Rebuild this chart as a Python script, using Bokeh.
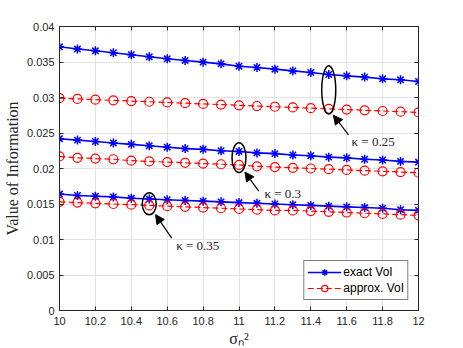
from bokeh.plotting import figure
from bokeh.models import (Range1d, FixedTicker, CustomJSTickFormatter, LinearAxis,
                          Arrow, NormalHead, Label, Legend, LegendItem)
from bokeh.embed import file_html
from bokeh.resources import INLINE

# ---------------- data ----------------
sigma2 = [10.0, 10.1, 10.2, 10.3, 10.4, 10.5, 10.6, 10.7, 10.8, 10.9, 11.0,
          11.1, 11.2, 11.3, 11.4, 11.5, 11.6, 11.7, 11.8, 11.9, 12.0]

exact_025 = [0.03714, 0.03682, 0.03658, 0.03630, 0.03602, 0.03573, 0.03545,
             0.03522, 0.03498, 0.03474, 0.03441, 0.03423, 0.03399, 0.03375,
             0.03352, 0.03324, 0.03305, 0.03287, 0.03263, 0.03249, 0.03225]
approx_025 = [0.0299, 0.0298, 0.0297, 0.0296, 0.0295, 0.0294, 0.0293, 0.0292,
              0.0291, 0.0290, 0.0289, 0.0288, 0.0287, 0.0286, 0.0285, 0.0284,
              0.0283, 0.0282, 0.0281, 0.0280, 0.0279]
exact_030 = [0.0242, 0.0240, 0.0238, 0.0236, 0.0234, 0.0232, 0.0230, 0.0228,
             0.0227, 0.0225, 0.0224, 0.0222, 0.0221, 0.0219, 0.0218, 0.0216,
             0.0215, 0.0213, 0.0212, 0.0210, 0.0209]
approx_030 = [0.0217, 0.0215, 0.0214, 0.0213, 0.0211, 0.0210, 0.0209, 0.0208,
              0.0207, 0.0206, 0.0205, 0.0203, 0.0202, 0.0201, 0.0200, 0.0199,
              0.0198, 0.0197, 0.0196, 0.0195, 0.0194]
exact_035 = [0.0164, 0.0162, 0.0161, 0.0160, 0.0158, 0.0157, 0.0156, 0.0155,
             0.0154, 0.0153, 0.0152, 0.0151, 0.0150, 0.0149, 0.0148, 0.0147,
             0.0146, 0.0145, 0.0144, 0.0142, 0.0141]
approx_035 = [0.0153, 0.0152, 0.0151, 0.0150, 0.0149, 0.0148, 0.0147, 0.0146,
              0.0145, 0.0144, 0.0143, 0.0142, 0.0141, 0.0141, 0.0140, 0.0139,
              0.0138, 0.0137, 0.0136, 0.0135, 0.0134]

x_ticks = [10.0, 10.2, 10.4, 10.6, 10.8, 11.0, 11.2, 11.4, 11.6, 11.8, 12.0]
y_ticks = [0.0, 0.005, 0.01, 0.015, 0.02, 0.025, 0.03, 0.035, 0.04]

# annotations (kappa groups)
kappa_labels = ["κ = 0.25", "κ = 0.3", "κ = 0.35"]
ell_x = [11.5, 11.0, 10.5]
ell_y = [0.03107, 0.02153, 0.01502]
ell_h = [0.0068, 0.0042, 0.0031]
arrow_tail_x = [11.61, 11.11, 10.625]
arrow_tail_y = [0.02475, 0.01680, 0.01020]
arrow_head_x = [11.526, 11.033, 10.535]
arrow_head_y = [0.02750, 0.01950, 0.01350]
label_x = [11.627, 11.142, 10.650]
label_y = [0.02374, 0.01645, 0.00917]

# ---------------- figure ----------------
TICK_FONT = "Liberation Sans"
SERIF = "Liberation Serif"

p = figure(frame_width=359, frame_height=284, output_backend="svg",
           toolbar_location=None,
           x_range=Range1d(10, 12), y_range=Range1d(0, 0.04),
           min_border_left=51, min_border_right=30, min_border_top=26,
           min_border_bottom=30)
p.background_fill_color = "white"
p.border_fill_color = "white"
p.outline_line_color = "#262626"
p.outline_line_width = 1

fmt = CustomJSTickFormatter(code="return (+tick.toFixed(4)).toString();")
blank = CustomJSTickFormatter(code="return '';")

for ax, ticks in ((p.xaxis[0], x_ticks), (p.yaxis[0], y_ticks)):
    ax.ticker = FixedTicker(ticks=ticks)
    ax.formatter = fmt
    ax.major_tick_in = 4
    ax.major_tick_out = 0
    ax.minor_tick_line_color = None
    ax.axis_line_color = "#262626"
    ax.major_tick_line_color = "#262626"
    ax.major_label_text_font = TICK_FONT
    ax.major_label_text_font_size = "11px"
    ax.major_label_text_color = "#262626"
    ax.axis_label_text_font = SERIF
    ax.axis_label_text_font_style = "normal"
    ax.axis_label_text_color = "#262626"

p.xaxis[0].axis_label = "σₙ²"
p.xaxis[0].axis_label_text_font_size = "16px"
p.xaxis[0].axis_label_standoff = 2
p.xaxis[0].major_label_standoff = 6
p.yaxis[0].axis_label = "Value of Information"
p.yaxis[0].axis_label_text_font_size = "16px"
p.yaxis[0].axis_label_standoff = 3
p.yaxis[0].major_label_standoff = 5

# mirrored axes (box with inward ticks)
top = LinearAxis(ticker=FixedTicker(ticks=x_ticks), formatter=blank,
                 major_tick_in=4, major_tick_out=0, minor_tick_line_color=None,
                 axis_line_color="#262626", major_tick_line_color="#262626",
                 major_label_text_font_size="1px", major_label_standoff=0)
right = LinearAxis(ticker=FixedTicker(ticks=y_ticks), formatter=blank,
                   major_tick_in=4, major_tick_out=0, minor_tick_line_color=None,
                   axis_line_color="#262626", major_tick_line_color="#262626",
                   major_label_text_font_size="1px", major_label_standoff=0)
p.add_layout(top, "above")
p.add_layout(right, "right")

p.xgrid.ticker = FixedTicker(ticks=x_ticks)
p.ygrid.ticker = FixedTicker(ticks=y_ticks)
p.grid.grid_line_color = "#e3e3e3"
p.grid.grid_line_width = 1

BLUE = "#0000ff"
RED = "#ff0000"

exact_r = []
approx_r = []
for ex, ap in ((exact_025, approx_025), (exact_030, approx_030), (exact_035, approx_035)):
    l1 = p.line(sigma2, ex, line_color=BLUE, line_width=1.6)
    m1 = p.scatter(sigma2, ex, marker="asterisk", size=9, line_color=BLUE, line_width=1.5)
    l2 = p.line(sigma2, ap, line_color=RED, line_width=1.2, line_dash="6 3")
    m2 = p.scatter(sigma2, ap, marker="circle", size=9, line_color=RED,
                   fill_color=None, line_width=1.2)
    exact_r += [l1, m1]
    approx_r += [l2, m2]

# ellipses
p.ellipse(x=ell_x, y=ell_y, width=[0.078] * 3, height=ell_h, fill_color=None,
          line_color="black", line_width=1.5)

for i in range(3):
    p.add_layout(Arrow(end=NormalHead(size=9, fill_color="black", line_color="black"),
                       x_start=arrow_tail_x[i], y_start=arrow_tail_y[i],
                       x_end=arrow_head_x[i], y_end=arrow_head_y[i],
                       line_color="black", line_width=1.2))
    p.add_layout(Label(x=label_x[i], y=label_y[i], text=kappa_labels[i],
                       text_font=SERIF, text_font_size="13px", text_color="#262626",
                       text_baseline="middle", text_align="left"))

legend = Legend(items=[LegendItem(label="exact VoI", renderers=exact_r[:2]),
                       LegendItem(label="approx. VoI", renderers=approx_r[:2])],
                location="bottom_right")
legend.label_text_font = TICK_FONT
legend.label_text_font_size = "12px"
legend.label_text_color = "black"
legend.border_line_color = "black"
legend.border_line_width = 1
legend.background_fill_color = "white"
legend.background_fill_alpha = 1
legend.margin = 10
legend.padding = 3
legend.spacing = 0
legend.glyph_width = 34
legend.glyph_height = 16
legend.label_standoff = 2
legend.label_height = 16
p.add_layout(legend)

open("out.html", "w").write(file_html(p, INLINE))
